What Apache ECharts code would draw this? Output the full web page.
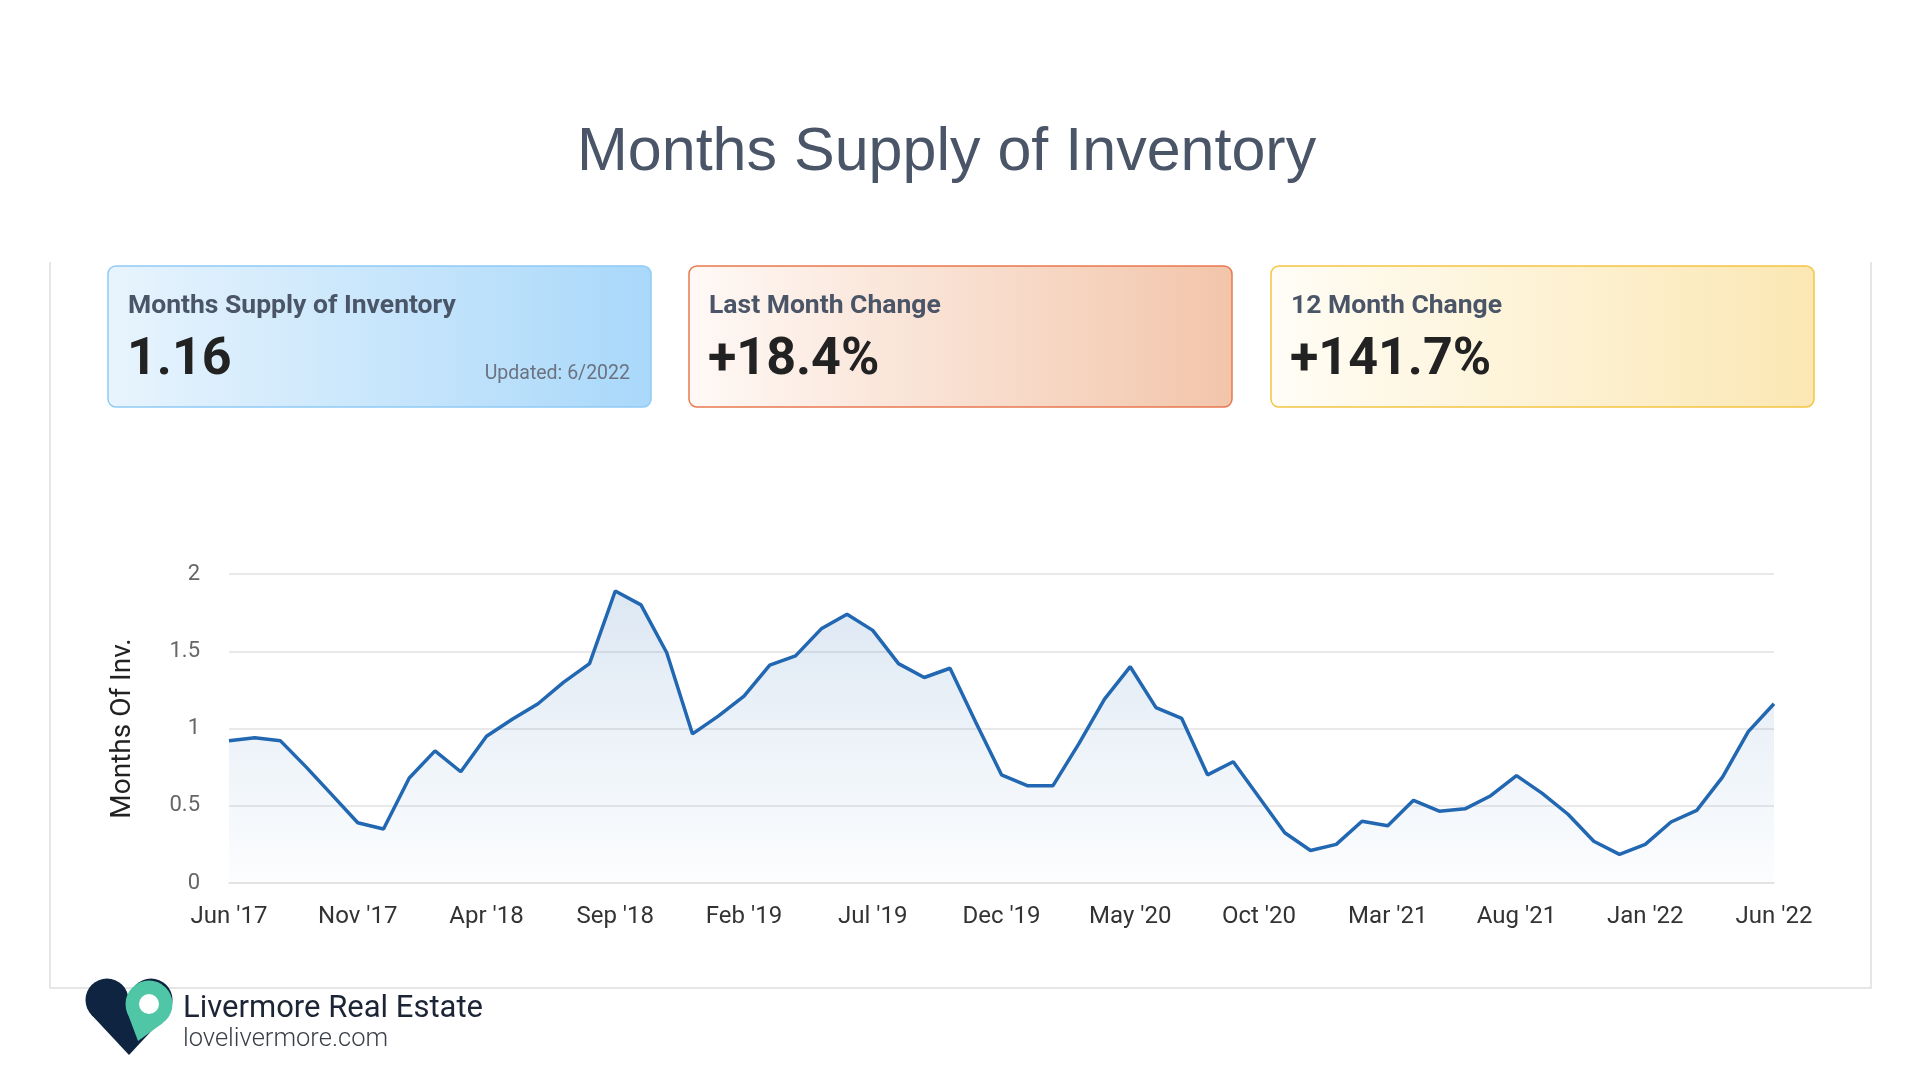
<!DOCTYPE html>
<html>
<head>
<meta charset="utf-8">
<title>Months Supply of Inventory</title>
<script src="https://cdn.jsdelivr.net/npm/echarts@6/dist/echarts.min.js"></script>
<style>
  html, body { margin: 0; padding: 0; background: #ffffff; }
  #chart { width: 1920px; height: 1080px; }
</style>
</head>
<body>
<div id="chart"></div>
<script>
// ---- Data ----
const months = [
  "Jun '17","Jul '17","Aug '17","Sep '17","Oct '17","Nov '17","Dec '17",
  "Jan '18","Feb '18","Mar '18","Apr '18","May '18","Jun '18","Jul '18","Aug '18","Sep '18","Oct '18","Nov '18","Dec '18",
  "Jan '19","Feb '19","Mar '19","Apr '19","May '19","Jun '19","Jul '19","Aug '19","Sep '19","Oct '19","Nov '19","Dec '19",
  "Jan '20","Feb '20","Mar '20","Apr '20","May '20","Jun '20","Jul '20","Aug '20","Sep '20","Oct '20","Nov '20","Dec '20",
  "Jan '21","Feb '21","Mar '21","Apr '21","May '21","Jun '21","Jul '21","Aug '21","Sep '21","Oct '21","Nov '21","Dec '21",
  "Jan '22","Feb '22","Mar '22","Apr '22","May '22","Jun '22"
];
const monthsSupply = [
  0.92, 0.94, 0.92, 0.75, 0.57, 0.39, 0.35, 0.68, 0.855, 0.72,
  0.95, 1.06, 1.16, 1.30, 1.42, 1.89, 1.80, 1.49, 0.965, 1.08,
  1.21, 1.41, 1.47, 1.645, 1.74, 1.635, 1.42, 1.33, 1.39, 1.04,
  0.70, 0.63, 0.63, 0.90, 1.19, 1.40, 1.135, 1.065, 0.70, 0.785,
  0.555, 0.325, 0.21, 0.25, 0.40, 0.37, 0.535, 0.465, 0.48, 0.565,
  0.695, 0.58, 0.445, 0.27, 0.185, 0.25, 0.395, 0.47, 0.685, 0.98,
  1.16
];
const yTicks = [0, 0.5, 1, 1.5, 2];
const cardTitles = ["Months Supply of Inventory", "Last Month Change", "12 Month Change"];
const cardValues = ["1.16", "+18.4%", "+141.7%"];
const updatedText = "Updated: 6/2022";
const chartTitle = "Months Supply of Inventory";
const yAxisName = "Months Of Inv.";
const brandName = "Livermore Real Estate";
const brandUrl = "lovelivermore.com";

// ---- Styles ----
const cardStyles = [
  { x: 108,  stroke: '#8FCAF5', from: '#E8F4FD', to: '#A9D8FA' },
  { x: 689,  stroke: '#E8784F', from: '#FFF9F6', to: '#F2C5AA' },
  { x: 1271, stroke: '#F4C443', from: '#FFFDF6', to: '#FBE7B3' }
];
const CARD_Y = 266, CARD_W = 543, CARD_H = 141;

const graphics = [];
// panel border (left, bottom, right)
graphics.push({
  type: 'polyline', silent: true,
  shape: { points: [[50, 262], [50, 988], [1871, 988], [1871, 262]] },
  style: { stroke: '#DEDEDE', lineWidth: 1.5, fill: null }
});
cardStyles.forEach((c, i) => {
  graphics.push({
    type: 'rect', silent: true,
    shape: { x: c.x, y: CARD_Y, width: CARD_W, height: CARD_H, r: 8 },
    style: {
      fill: { type: 'linear', x: 0, y: 0, x2: 1, y2: 0,
              colorStops: [{ offset: 0, color: c.from }, { offset: 1, color: c.to }] },
      stroke: c.stroke, lineWidth: 1.5
    }
  });
  graphics.push({
    type: 'text', silent: true,
    style: { x: c.x + 20, y: 306, text: cardTitles[i], fill: '#4A5568',
             font: 'bold 26.5px Roboto', align: 'left', verticalAlign: 'middle' }
  });
  graphics.push({
    type: 'text', silent: true,
    style: { x: c.x + 19, y: 361, text: cardValues[i], fill: '#222222',
             font: 'bold 52px Roboto', align: 'left', verticalAlign: 'middle' }
  });
});
graphics.push({
  type: 'text', silent: true,
  style: { x: 630, y: 374, text: updatedText, fill: '#6B7280',
           font: '19.5px Roboto', align: 'right', verticalAlign: 'middle' }
});
// logo: heart + pin
const dark = '#0F2440', teal = '#4FC6A6';
graphics.push({ type: 'circle', silent: true, shape: { cx: 107, cy: 1000, r: 21.5 }, style: { fill: dark } });
graphics.push({ type: 'circle', silent: true, shape: { cx: 151, cy: 1000, r: 21.5 }, style: { fill: dark } });
graphics.push({ type: 'polygon', silent: true,
  shape: { points: [[91.4, 1014.8], [129, 1055], [166.6, 1014.8], [151, 1000], [107, 1000]] },
  style: { fill: dark } });
graphics.push({ type: 'circle', silent: true, shape: { cx: 149, cy: 1004, r: 23.5 }, style: { fill: teal } });
graphics.push({ type: 'polygon', silent: true,
  shape: { points: [[138, 1041], [162.6, 1023.2], [127.2, 1012.3]] },
  style: { fill: teal } });
graphics.push({ type: 'circle', silent: true, shape: { cx: 149, cy: 1004, r: 10 }, style: { fill: '#ffffff' } });
graphics.push({
  type: 'text', silent: true,
  style: { x: 183, y: 1009, text: brandName, fill: '#1C2536',
           font: '31px Roboto', align: 'left', verticalAlign: 'middle' }
});
graphics.push({
  type: 'text', silent: true,
  style: { x: 183, y: 1040, text: brandUrl, fill: '#3A3F47',
           font: '300 25.5px Roboto', align: 'left', verticalAlign: 'middle' }
});

const chart = echarts.init(document.getElementById('chart'), null, { renderer: 'canvas' });
chart.setOption({
  backgroundColor: '#ffffff',
  animation: false,
  title: {
    text: chartTitle, left: 572, top: 118,
    textStyle: { fontFamily: 'Liberation Sans', fontSize: 61, fontWeight: 'normal', color: '#4A5568' }
  },
  graphic: graphics,
  grid: { left: 229, right: 146, top: 574, bottom: 197, containLabel: false },
  xAxis: {
    type: 'category',
    data: months,
    boundaryGap: false,
    axisLine: { show: true, lineStyle: { color: '#E2E2E2', width: 1.5 } },
    axisTick: { show: false },
    axisLabel: { interval: 4, margin: 22, color: '#333333', fontSize: 24, fontFamily: 'Roboto' },
    splitLine: { show: false }
  },
  yAxis: {
    type: 'value',
    min: yTicks[0], max: yTicks[yTicks.length - 1], interval: 0.5,
    name: yAxisName, nameLocation: 'middle', nameRotate: 90, nameGap: 92,
    nameTextStyle: { color: '#222222', fontSize: 28, fontFamily: 'Roboto' },
    axisLine: { show: false },
    axisTick: { show: false },
    axisLabel: { margin: 29, color: '#666666', fontSize: 22, fontFamily: 'Roboto' },
    splitLine: { lineStyle: { color: '#E2E2E2', width: 1.5 } }
  },
  series: [{
    type: 'line',
    data: monthsSupply,
    symbol: 'none',
    smooth: false,
    lineStyle: { color: '#2167B1', width: 3.5 },
    areaStyle: {
      color: { type: 'linear', x: 0, y: 0, x2: 0, y2: 1,
               colorStops: [{ offset: 0, color: 'rgba(33,103,177,0.22)' },
                            { offset: 1, color: 'rgba(33,103,177,0.02)' }] }
    }
  }]
});
</script>
</body>
</html>
